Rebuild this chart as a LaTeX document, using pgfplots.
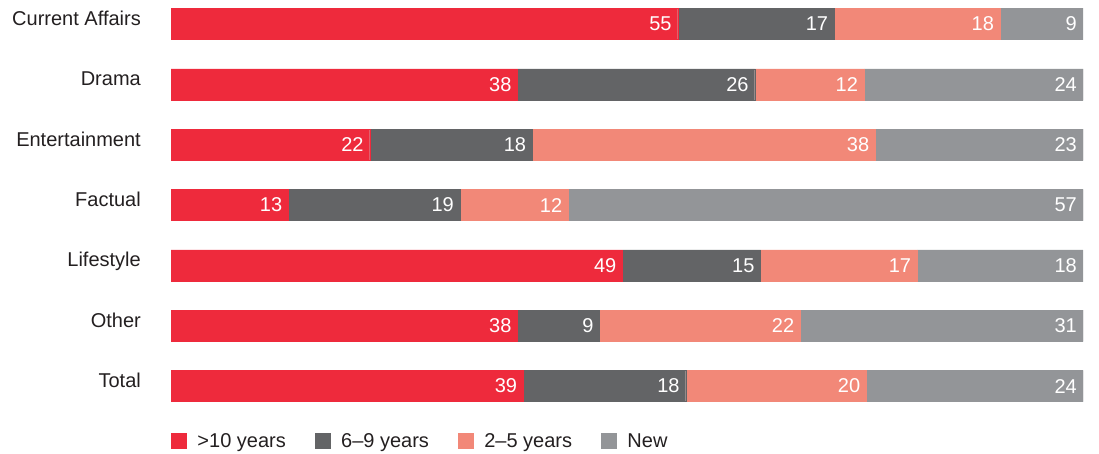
\documentclass[border=0pt]{standalone}
\usepackage{fontspec}
\setmainfont{Liberation Sans}
\usepackage{pgfplots}
\usepackage{pgfplotstable}
\pgfplotsset{compat=1.18}
\definecolor{cA}{HTML}{EE2A3C}
\definecolor{cB}{HTML}{636466}
\definecolor{cC}{HTML}{F28878}
\definecolor{cD}{HTML}{939598}
\definecolor{txt}{HTML}{231F20}
\pgfplotstableread{
y a b c d
6 55 17 18 9
5 38 26 12 24
4 22 18 38 23
3 13 19 12 57
2 49 15 17 18
1 38 9 22 31
0 39 18 20 24
}\data
\newcommand{\tot}{(\thisrow{a}+\thisrow{b}+\thisrow{c}+\thisrow{d})}
\begin{document}
\begin{tikzpicture}
\begin{axis}[
  at={(171pt,0pt)}, anchor=north west,
  scale only axis, width=912pt, height=416pt,
  xbar stacked, bar width=31pt,
  xmin=0, xmax=100, ymin=-0.497, ymax=6.398,
  hide x axis,
  y axis line style={draw=none},
  major tick style={draw=none},
  ytick={0,...,6},
  yticklabels={Total,Other,Lifestyle,Factual,Entertainment,Drama,Current Affairs},
  yticklabel style={anchor=base east, inner sep=0pt, xshift=-30pt, yshift=-1.5pt, font=\fontsize{20}{24}\selectfont, text=txt},
  point meta=explicit,
  nodes near coords={\pgfmathprintnumber[assume math mode=true]{\pgfplotspointmeta}},
  nodes near coords style={anchor=east, text=white, font=\fontsize{20}{24}\selectfont, xshift={\hw*1pt-6pt}, inner sep=0pt},
  legend columns=4,
  legend style={at={(0,0)}, anchor=north west, yshift=-15pt, draw=none, fill=none, inner sep=0pt,
    font=\fontsize{20}{24}\selectfont, text=txt,
    /tikz/every odd column/.append style={column sep=9pt},
    /tikz/every even column/.append style={column sep=27pt}},
  legend image code/.code={\fill[#1] (0pt,-7.5pt) rectangle (15pt,7.5pt);},
]
\addplot[fill=cA, draw=cA, line width=0.3pt, visualization depends on={\thisrow{a}*456/\tot \as \hw}] table[x expr={\thisrow{a}*100/\tot}, y=y, meta=a]{\data};
\addplot[fill=cB, draw=cB, line width=0.3pt, visualization depends on={\thisrow{b}*456/\tot \as \hw}] table[x expr={\thisrow{b}*100/\tot}, y=y, meta=b]{\data};
\addplot[fill=cC, draw=cC, line width=0.3pt, visualization depends on={\thisrow{c}*456/\tot \as \hw}] table[x expr={\thisrow{c}*100/\tot}, y=y, meta=c]{\data};
\addplot[fill=cD, draw=cD, line width=0.3pt, visualization depends on={\thisrow{d}*456/\tot \as \hw}] table[x expr={\thisrow{d}*100/\tot}, y=y, meta=d]{\data};
\legend{>10 years, 6–9 years, 2–5 years, New}
\end{axis}
\pgfresetboundingbox
\path (0pt,0pt) rectangle (1099pt,-453pt);
\end{tikzpicture}
\end{document}
